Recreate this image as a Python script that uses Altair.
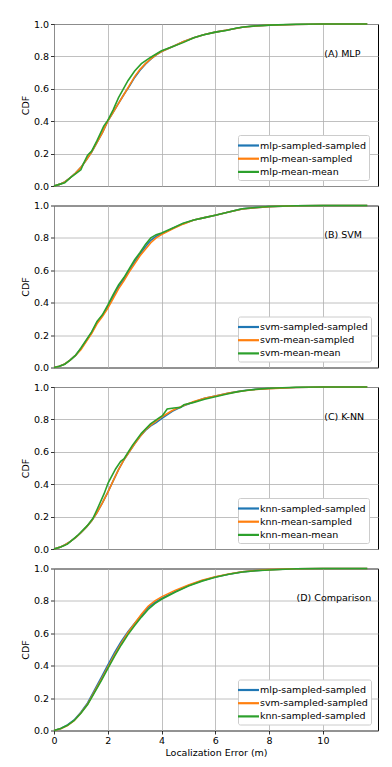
import altair as alt
import pandas as pd

FONT = "DejaVu Sans"
FS = 9.5
COLORS = ["#1f77b4", "#ff7f0e", "#2ca02c"]
X_TICKS = [0, 2, 4, 6, 8, 10]
Y_TICKS = [0.0, 0.2, 0.4, 0.6, 0.8, 1.0]

# ---------- Panel A: MLP ----------
a_names = ["mlp-sampled-sampled", "mlp-mean-sampled", "mlp-mean-mean"]
a_label = "(A) MLP"
a_label_x, a_label_y = 10.05, 0.815
a_x = [0, 0.2, 0.4, 0.6, 0.8, 1.0, 1.2, 1.4, 1.6, 1.8, 2.0, 2.2, 2.4, 2.6, 2.8, 3.0,
       3.2, 3.4, 3.6, 3.8, 4.0, 4.4, 4.8, 5.2, 5.6, 6.0, 6.5, 7.0, 7.5, 8.0, 9.0, 10.0, 11.65]
a_blue = [0, 0.01, 0.025, 0.05, 0.08, 0.115, 0.16, 0.21, 0.27, 0.33, 0.40, 0.455, 0.51,
          0.565, 0.615, 0.67, 0.715, 0.752, 0.783, 0.81, 0.83, 0.86, 0.89, 0.915, 0.935,
          0.95, 0.965, 0.98, 0.988, 0.993, 0.997, 1.0, 1.0]
a_orange = [0, 0.01, 0.025, 0.05, 0.08, 0.115, 0.16, 0.21, 0.27, 0.33, 0.40, 0.455, 0.51,
            0.565, 0.62, 0.675, 0.72, 0.755, 0.785, 0.81, 0.83, 0.86, 0.89, 0.915, 0.935,
            0.95, 0.965, 0.98, 0.988, 0.993, 0.997, 1.0, 1.0]
a_x_green = [0, 0.2, 0.4, 0.6, 0.8, 1.0, 1.1, 1.25, 1.4, 1.6, 1.85, 2.0, 2.2, 2.4, 2.55,
             2.75, 3.0, 3.25, 3.6, 4.0, 4.4, 4.8, 5.2, 5.5, 6.0, 6.4, 6.8, 7.2, 8.0, 9.0,
             10.0, 11.65]
a_green = [0, 0.01, 0.02, 0.05, 0.075, 0.10, 0.14, 0.19, 0.215, 0.28, 0.37, 0.405, 0.47,
           0.545, 0.59, 0.65, 0.71, 0.755, 0.795, 0.835, 0.86, 0.885, 0.915, 0.93, 0.95,
           0.96, 0.975, 0.985, 0.993, 0.998, 1.0, 1.0]

# ---------- Panel B: SVM ----------
b_names = ["svm-sampled-sampled", "svm-mean-sampled", "svm-mean-mean"]
b_label = "(B) SVM"
b_label_x, b_label_y = 10.05, 0.815
b_x = [0, 0.2, 0.4, 0.6, 0.8, 1.0, 1.2, 1.4, 1.6, 1.8, 2.0, 2.2, 2.4, 2.6, 2.8, 3.0,
       3.2, 3.4, 3.6, 3.8, 4.0, 4.4, 4.8, 5.2, 5.6, 6.0, 6.5, 7.0, 7.5, 8.0, 9.0, 10.0, 11.65]
b_blue = [0, 0.008, 0.021, 0.045, 0.075, 0.115, 0.165, 0.215, 0.278, 0.32, 0.375, 0.438,
          0.498, 0.545, 0.60, 0.652, 0.70, 0.745, 0.785, 0.81, 0.825, 0.858, 0.888, 0.91,
          0.925, 0.94, 0.96, 0.979, 0.987, 0.993, 0.998, 1.0, 1.0]
b_orange = [0, 0.008, 0.022, 0.045, 0.075, 0.11, 0.16, 0.21, 0.27, 0.315, 0.365, 0.425,
            0.485, 0.535, 0.59, 0.64, 0.69, 0.73, 0.77, 0.80, 0.82, 0.855, 0.885, 0.91,
            0.925, 0.94, 0.96, 0.978, 0.986, 0.993, 0.998, 1.0, 1.0]
b_green = [0, 0.008, 0.02, 0.045, 0.075, 0.12, 0.17, 0.22, 0.285, 0.325, 0.385, 0.45,
           0.51, 0.555, 0.61, 0.665, 0.71, 0.76, 0.80, 0.82, 0.83, 0.86, 0.89, 0.91,
           0.925, 0.94, 0.96, 0.98, 0.988, 0.994, 0.998, 1.0, 1.0]

# ---------- Panel C: K-NN ----------
c_names = ["knn-sampled-sampled", "knn-mean-sampled", "knn-mean-mean"]
c_label = "(C) K-NN"
c_label_x, c_label_y = 10.05, 0.815
c_x = [0, 0.2, 0.4, 0.6, 0.8, 1.0, 1.2, 1.4, 1.6, 1.8, 2.0, 2.2, 2.4, 2.6, 2.8, 3.0,
       3.2, 3.4, 3.6, 3.8, 4.0, 4.4, 4.8, 5.2, 5.6, 6.0, 6.5, 7.0, 7.5, 8.0, 9.0, 10.0, 11.65]
c_blue = [0, 0.01, 0.025, 0.045, 0.07, 0.1, 0.135, 0.175, 0.225, 0.285, 0.35, 0.42, 0.49,
          0.55, 0.6, 0.65, 0.695, 0.732, 0.76, 0.78, 0.805, 0.85, 0.882, 0.908, 0.93,
          0.945, 0.963, 0.977, 0.986, 0.991, 0.997, 1.0, 1.0]
c_orange = [0, 0.01, 0.025, 0.045, 0.07, 0.1, 0.135, 0.175, 0.225, 0.285, 0.35, 0.42,
            0.49, 0.55, 0.6, 0.65, 0.695, 0.735, 0.765, 0.79, 0.815, 0.855, 0.885, 0.91,
            0.93, 0.945, 0.962, 0.975, 0.985, 0.99, 0.997, 1.0, 1.0]
c_x_green = [0, 0.25, 0.5, 0.87, 1.24, 1.45, 1.61, 1.86, 2.02, 2.29, 2.48, 2.6, 2.91,
             3.25, 3.59, 3.84, 4.03, 4.21, 4.46, 4.71, 4.83, 5.2, 5.6, 6.0, 6.4, 6.8, 7.2,
             7.6, 8.0, 9.0, 10.0, 11.65]
c_green = [0, 0.012, 0.03, 0.082, 0.144, 0.19, 0.247, 0.34, 0.41, 0.494, 0.541, 0.556,
           0.638, 0.714, 0.772, 0.802, 0.823, 0.864, 0.87, 0.874, 0.89, 0.905, 0.925,
           0.94, 0.955, 0.97, 0.98, 0.987, 0.992, 0.998, 1.0, 1.0]

# ---------- Panel D: Comparison ----------
d_names = ["mlp-sampled-sampled", "svm-sampled-sampled", "knn-sampled-sampled"]
d_label = "(D) Comparison"
d_label_x, d_label_y = 9.02, 0.815
d_x = [0, 0.25, 0.5, 0.75, 1.0, 1.25, 1.5, 1.75, 2.0, 2.25, 2.5, 2.75, 3.0, 3.25, 3.5,
       3.75, 4.0, 4.5, 5.0, 5.5, 6.0, 6.5, 7.0, 7.5, 8.0, 9.0, 10.0, 11.65]
d_blue = [0, 0.012, 0.034, 0.065, 0.113, 0.17, 0.247, 0.325, 0.404, 0.48, 0.55, 0.61,
          0.662, 0.712, 0.758, 0.79, 0.815, 0.857, 0.895, 0.925, 0.948, 0.965, 0.979,
          0.987, 0.992, 0.998, 1.0, 1.0]
d_orange = [0, 0.011, 0.03, 0.06, 0.108, 0.163, 0.238, 0.313, 0.39, 0.466, 0.537, 0.603,
            0.66, 0.718, 0.767, 0.8, 0.825, 0.865, 0.898, 0.927, 0.949, 0.966, 0.98,
            0.988, 0.993, 0.998, 1.0, 1.0]
d_green = [0, 0.012, 0.032, 0.062, 0.106, 0.16, 0.232, 0.305, 0.382, 0.458, 0.528,
           0.592, 0.648, 0.70, 0.747, 0.783, 0.81, 0.853, 0.892, 0.922, 0.946, 0.964,
           0.978, 0.986, 0.991, 0.998, 1.0, 1.0]


def series_frame(names, xs_list, ys_list):
    rows = []
    for name, xs, ys in zip(names, xs_list, ys_list):
        for i, (xv, yv) in enumerate(zip(xs, ys)):
            rows.append({"series": name, "x": xv, "y": yv, "i": i})
    return pd.DataFrame(rows)


X_SCALE = alt.Scale(domain=[0, 12.05], nice=False, zero=False)
Y_SCALE = alt.Scale(domain=[0, 1], nice=False, zero=False)


def make_axes(bottom):
    if bottom:
        x_axis = alt.Axis(values=X_TICKS, title="Localization Error (m)")
    else:
        x_axis = alt.Axis(values=X_TICKS, labels=False, ticks=False, title=None)
    y_axis = alt.Axis(values=Y_TICKS, format=".1f", title="CDF")
    return x_axis, y_axis


def panel(names, xs_list, ys_list, label, lx, ly, bottom):
    df = series_frame(names, xs_list, ys_list)
    x_axis, y_axis = make_axes(bottom)
    lines = alt.Chart(df).mark_line(strokeWidth=1.6).encode(
        x=alt.X("x:Q", scale=X_SCALE, axis=x_axis),
        y=alt.Y("y:Q", scale=Y_SCALE, axis=y_axis),
        color=alt.Color(
            "series:N",
            scale=alt.Scale(domain=names, range=COLORS),
            sort=names,
            legend=alt.Legend(
                title=None, orient="none", legendX=184, legendY=111,
                symbolType="M-1.75,0H1.75", symbolSize=144, symbolStrokeWidth=2.2,
                labelFont=FONT, labelFontSize=FS, labelColor="black",
                labelLimit=0, labelOffset=4,
                fillColor="white", strokeColor="#cccccc", padding=3,
                cornerRadius=2, rowPadding=1.2,
            ),
        ),
        order="i:Q",
    )
    txt = alt.Chart(pd.DataFrame({"x": [lx], "y": [ly], "t": [label]})).mark_text(
        align="left", baseline="middle", font=FONT, fontSize=FS, color="black"
    ).encode(
        x=alt.X("x:Q", scale=X_SCALE, axis=x_axis),
        y=alt.Y("y:Q", scale=Y_SCALE, axis=y_axis),
        text="t:N",
    )
    return alt.layer(lines, txt).properties(width=324, height=162)


pa = panel(a_names, [a_x, a_x, a_x_green], [a_blue, a_orange, a_green], a_label, a_label_x, a_label_y, False)
pb = panel(b_names, [b_x, b_x, b_x], [b_blue, b_orange, b_green], b_label, b_label_x, b_label_y, False)
pc = panel(c_names, [c_x, c_x, c_x_green], [c_blue, c_orange, c_green], c_label, c_label_x, c_label_y, False)
pd_ = panel(d_names, [d_x, d_x, d_x], [d_blue, d_orange, d_green], d_label, d_label_x, d_label_y, True)

axis_common = dict(
    grid=True, domain=False, tickSize=3.5, tickColor="black", tickWidth=0.8,
    labelFont=FONT, labelFontSize=FS, labelColor="black",
    labelOverlap=False, labelFlush=False,
    titleFont=FONT, titleFontSize=FS, titleFontWeight="normal", titleColor="black",
    gridColor="#b0b0b0", gridWidth=0.8,
)

chart = alt.vconcat(pa, pb, pc, pd_, spacing=8.5).resolve_scale(
    color="independent"
).resolve_legend(color="independent").properties(
    padding={"left": 11, "top": 10, "right": 0, "bottom": 0}
).configure(
    background="white",
    view=alt.ViewConfig(stroke="black", strokeWidth=1),
    axisX=alt.AxisConfig(labelPadding=1, titlePadding=3, **axis_common),
    axisY=alt.AxisConfig(labelPadding=2, titlePadding=3, **axis_common),
)

chart.save("out.html", embed_options={"renderer": "svg", "actions": False})
